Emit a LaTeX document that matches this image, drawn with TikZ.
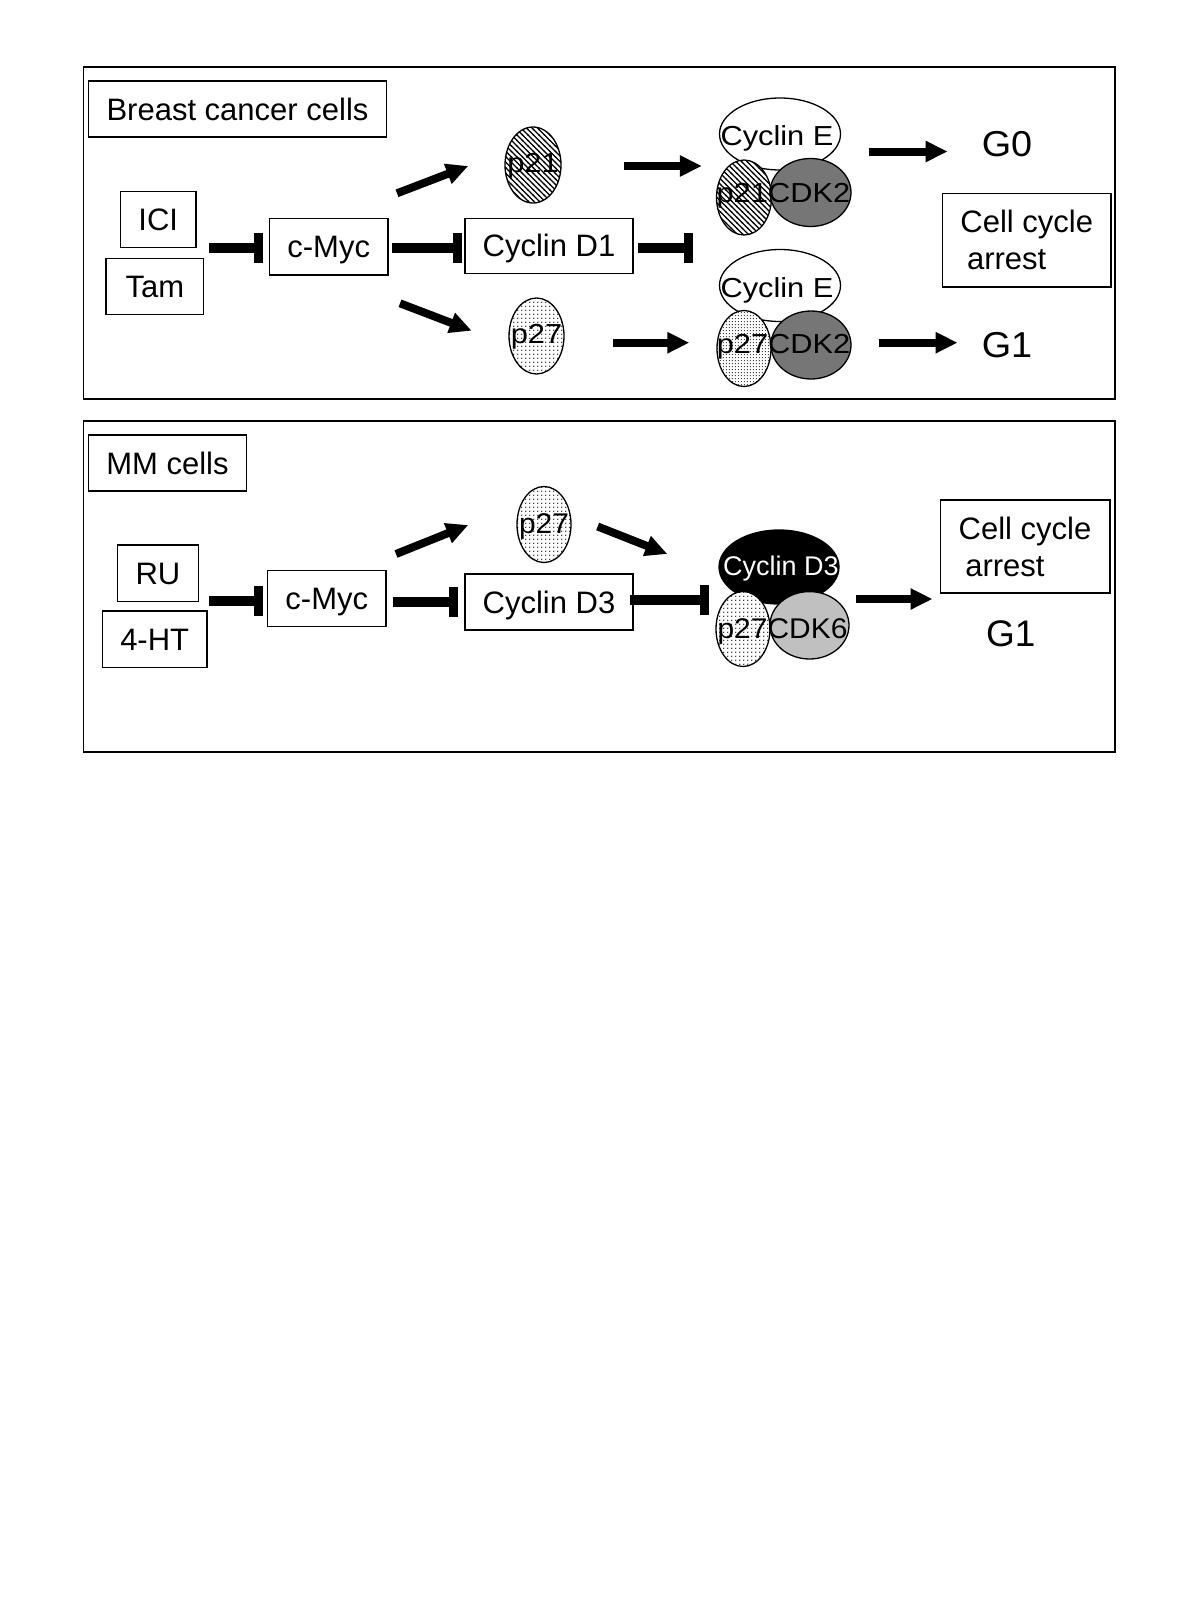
\documentclass[tikz,border=0pt]{standalone}
\usepackage{fontspec}
\setmainfont{Liberation Sans}
\newfontfamily\widesans[FakeStretch=1.12]{Liberation Sans}
\newfontfamily\midsans[FakeStretch=1.05]{Liberation Sans}
\usetikzlibrary{arrows.meta,shapes.geometric,patterns}

\pgfdeclarepatternformonly{hatchnw}{\pgfqpoint{-1pt}{-1pt}}{\pgfqpoint{6.5pt}{6.5pt}}{\pgfqpoint{5.5pt}{5.5pt}}{%
  \pgfsetlinewidth{1.15pt}%
  \pgfpathmoveto{\pgfqpoint{-0.5pt}{6pt}}\pgfpathlineto{\pgfqpoint{6pt}{-0.5pt}}\pgfusepath{stroke}}
\pgfdeclarepatternformonly{dotsfine}{\pgfqpoint{0pt}{0pt}}{\pgfqpoint{2.8pt}{2.8pt}}{\pgfqpoint{2.8pt}{2.8pt}}{%
  \pgfpathcircle{\pgfqpoint{1.4pt}{1.4pt}}{0.6pt}\pgfusepath{fill}}
\pgfdeclarepatternformonly{dotsmid}{\pgfqpoint{0pt}{0pt}}{\pgfqpoint{4.2pt}{4.2pt}}{\pgfqpoint{4.2pt}{4.2pt}}{%
  \pgfpathcircle{\pgfqpoint{2.1pt}{2.1pt}}{0.85pt}\pgfusepath{fill}}

\definecolor{cdkdark}{RGB}{118,118,118}
\definecolor{cdklight}{RGB}{192,192,192}

\begin{document}
\begin{tikzpicture}[x=1pt,y=-1pt,
  box/.style={draw, line width=1.5pt, inner sep=0pt, font=\fontsize{31}{37}\selectfont},
  capline/.style={text height=22.2pt, text depth=0pt},
  mol/.style={ellipse, draw, line width=1.3pt, inner sep=0pt},
  moltxt/.style={font=\widesans\fontsize{27.5}{31}\selectfont, inner sep=0pt, text height=19.7pt, text depth=0pt},
  molbot/.style={font=\midsans\fontsize{28.5}{32}\selectfont, inner sep=0pt, text height=20.4pt, text depth=0pt},
  gtop/.style={font=\midsans\fontsize{36}{40}\selectfont, inner sep=0pt, text height=25.8pt, text depth=0pt},
  gbot/.style={font=\fontsize{37}{42}\selectfont, inner sep=0pt, text height=26.5pt, text depth=0pt},
  act/.style={line width=8pt, -{Triangle[length=22pt,width=20pt]}},
  inh/.style={line width=10pt, -{Rectangle[length=9pt,width=30pt]}},
  panelframe/.style={line width=1.5pt}
]
\useasboundingbox (0,0) rectangle (1200,1598);
\fill[white] (0,0) rectangle (1200,1598);

% ---------------- top panel ----------------
\draw[panelframe] (83.6,67) rectangle (1115,399);
\node[box, capline, minimum width=298.4pt, minimum height=56.3pt] (bcc) at (237.5,109) {Breast cancer cells};
\node[box, capline, minimum width=75.3pt, minimum height=56pt] (ici) at (158.3,219.7) {ICI};
\node[box, capline, minimum width=97.7pt, minimum height=56pt] (tam) at (154.8,286.3) {Tam};
\node[box, capline, minimum width=118.7pt, minimum height=56.3pt] (myc1) at (328.7,246.8) {c-Myc};
\node[box, capline, minimum width=168pt, minimum height=55pt] (cd1) at (549,245.8) {Cyclin D1};
\node[box, minimum width=168.5pt, minimum height=93.5pt, align=left] (cca1) at (1026.8,240.3) {Cell cycle\\\hspace*{6.6pt}arrest};

\node[mol, minimum width=56pt, minimum height=76pt, pattern=hatchnw] (p21a) at (533,165) {};
\node[mol, minimum width=55pt, minimum height=76pt, pattern=dotsmid] (p27a) at (536.5,336) {};
\node[moltxt] (p21a-t) at (533,163) {p21};
\node[moltxt] (p27a-t) at (536.5,334) {p27};

% complex 1
\node[mol, fill=white, minimum width=121pt, minimum height=72pt] (cyce1) at (780,134) {};
\node[mol, preaction={fill=white}, pattern=hatchnw, minimum width=55pt, minimum height=75pt] (p21b) at (744,197.5) {};
\node[mol, fill=cdkdark, minimum width=81pt, minimum height=68pt] (cdk2a) at (810.5,192.5) {};
\node[moltxt] (cyce1-t) at (777,136) {Cyclin E};
\node[moltxt] (p21b-t) at (742.3,192.5) {p21};
\node[moltxt] (cdk2a-t) at (809.2,192.5) {CDK2};

% complex 2
\node[mol, fill=white, minimum width=121pt, minimum height=72pt] (cyce2) at (780,285.5) {};
\node[mol, preaction={fill=white}, pattern=dotsfine, minimum width=54pt, minimum height=76pt] (p27b) at (744,348.5) {};
\node[mol, fill=cdkdark, minimum width=80pt, minimum height=68pt] (cdk2b) at (811,345) {};
\node[moltxt] (cyce2-t) at (777,287.5) {Cyclin E};
\node[moltxt] (p27b-t) at (742.5,344) {p27};
\node[moltxt] (cdk2b-t) at (809.2,344) {CDK2};

\node[gtop] (g0) at (1007,143.5) {G0};
\node[gtop] (g1a) at (1007,344.5) {G1};

% connectors top
\coordinate (src1) at (209,247.7);
\draw[inh] (src1) -- ([xshift=-6pt]src1 -| myc1.west);
\draw[inh] ([xshift=3pt]myc1.east |- 0,247.5) -- ([xshift=-2.7pt]cd1.west |- 0,247.5);
\coordinate (up1s) at (397,193.3);
\coordinate (up1e) at (468.3,166);
\draw[act] (up1s) -- (up1e);
\coordinate (dn1s) at (400,303.3);
\coordinate (dn1e) at (471.7,330.7);
\draw[act] (dn1s) -- (dn1e);
\draw[act] ([xshift=62pt]p21a.east |- 0,166) -- ([xshift=-14pt]p21b.west |- 0,166);
\draw[act] ([xshift=48pt]p27a.east |- 0,342.7) -- ([xshift=-27pt]p27b.west |- 0,342.7);
\coordinate (inh1e) at (693,247.5);
\draw[inh] ([xshift=4pt]cd1.east |- 0,247.5) -- (inh1e);
\draw[act] ([xshift=17pt]cdk2a.east |- 0,151.5) -- ([xshift=-34pt]g0.west |- 0,151.5);
\draw[act] ([xshift=27pt]cdk2b.east |- 0,342.7) -- ([xshift=-24pt]g1a.west |- 0,342.7);

% ---------------- bottom panel ----------------
\draw[panelframe] (83.6,421) rectangle (1115,752);
\node[box, capline, minimum width=158.4pt, minimum height=56pt] (mm) at (167.5,463) {MM cells};
\node[box, capline, minimum width=80.6pt, minimum height=56.7pt] (ru) at (158,573.3) {RU};
\node[box, capline, minimum width=104.7pt, minimum height=56.7pt] (fht) at (154.7,639.3) {4-HT};
\node[box, capline, minimum width=118.3pt, minimum height=56.4pt] (myc2) at (326.8,598.5) {c-Myc};
\node[box, capline, minimum width=168pt, minimum height=56pt] (cd3) at (549,602) {Cyclin D3};
\node[box, minimum width=169.5pt, minimum height=93pt, align=left] (cca2) at (1025,546.5) {Cell cycle\\\hspace*{6.6pt}arrest};

\node[mol, minimum width=54pt, minimum height=76pt, pattern=dotsmid] (p27c) at (544,524.5) {};
\node[molbot] (p27c-t) at (544,523) {p27};

% complex 3
\node[mol, fill=black, minimum width=120pt, minimum height=74pt] (cycd3) at (779,567) {};
\node[mol, preaction={fill=white}, pattern=dotsmid, minimum width=54pt, minimum height=75pt] (p27d) at (743,629) {};
\node[mol, fill=cdklight, minimum width=79pt, minimum height=67.4pt] (cdk6) at (809.5,625.3) {};
\node[font=\fontsize{27}{31}\selectfont, inner sep=0pt, text height=19.3pt, text depth=0pt, text=white] (cycd3-t) at (780.8,565.5) {Cyclin D3};
\node[molbot] (p27d-t) at (742.5,628) {p27};
\node[molbot] (cdk6-t) at (807.5,628) {CDK6};

\node[gbot] (g1b) at (1010.8,632.8) {G1};

% connectors bottom
\coordinate (src2) at (209,601);
\draw[inh] (src2) -- ([xshift=-4.4pt]src2 -| myc2.west);
\draw[inh] ([xshift=6pt]myc2.east |- 0,601.5) -- ([xshift=-6.7pt]cd3.west |- 0,601.5);
\coordinate (up2s) at (396,554);
\coordinate (up2e) at (468.3,525);
\draw[act] (up2s) -- (up2e);
\draw[act] ([xshift=26pt]p27c.east |- 0,526.5) -- ([xshift=-48pt]p27d.west |- 0,554);
\coordinate (inh2e) at (708.5,600);
\draw[inh] ([xshift=-3.4pt]cd3.east |- 0,600) -- (inh2e);
\draw[act] ([xshift=6pt]cdk6.east |- 0,599) -- ([xshift=-7pt]cca2.west |- 0,599);
\end{tikzpicture}
\end{document}
